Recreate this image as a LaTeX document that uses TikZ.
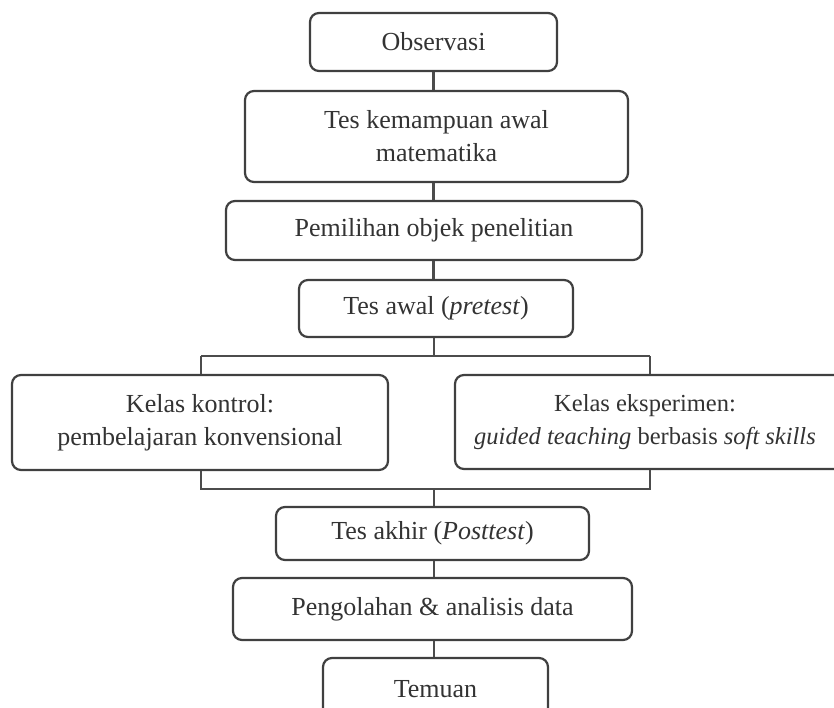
\documentclass[tikz,border=0pt]{standalone}
\usepackage{fontspec}
\setmainfont{Liberation Serif}
\begin{document}
\begin{tikzpicture}[x=1pt,y=-1pt,
  lbl/.style={font=\fontsize{26}{33}\selectfont, text=black!80, align=center, inner sep=0pt},
  box/.style={draw=black!75, line width=2.2pt, rounded corners=9pt, lbl},
  conn/.style={draw=black!70, line width=2.2pt}]
\useasboundingbox (0,0) rectangle (834,708);
\fill[white] (0,0) rectangle (834,708);
\clip (0,0) rectangle (834,708);
\node[box, minimum width=247pt, minimum height=58pt] (obs) at (433.5,42) {Observasi};
\node[box, minimum width=383pt, minimum height=91pt] (tka) at (436.5,136.5) {Tes kemampuan awal\\matematika};
\node[box, minimum width=416pt, minimum height=59pt] (pem) at (434,230.5) {Pemilihan objek penelitian};
\node[box, minimum width=274pt, minimum height=57pt] (twal) at (436,308.5) {Tes awal (\textit{pretest})};
\node[box, minimum width=376pt, minimum height=95pt] (kk) at (200,422.5) {Kelas kontrol:\\pembelajaran konvensional};
\node[box, minimum width=390pt, minimum height=94pt] (ke) at (650,422) {};
\node[lbl, font=\fontsize{24.5}{33}\selectfont] (ket) at (645,422) {Kelas eksperimen:\\\textit{guided teaching} berbasis \textit{soft skills}};
\node[box, minimum width=313pt, minimum height=53pt] (takh) at (432.5,533.5) {Tes akhir (\textit{Posttest})};
\node[box, minimum width=399pt, minimum height=62pt] (peng) at (432.5,609) {Pengolahan \& analisis data};
\node[box, minimum width=225pt, minimum height=70pt] (tem) at (435.5,693) {};
\node[lbl] (temt) at (435.5,689) {Temuan};
\coordinate (ta) at (434,356);
\coordinate (tl) at (201,356);
\coordinate (tr) at (650,356);
\coordinate (bl) at (201,489);
\coordinate (br) at (650,489);
\coordinate (bc) at (434,489);
\draw[conn] (obs.south) -- (obs.south |- tka.north);
\draw[conn] (tka.south -| obs.south) -- (pem.north -| obs.south);
\draw[conn] (pem.south -| obs.south) -- (twal.north -| obs.south);
\draw[conn] (twal.south -| ta) -- (ta);
\draw[conn] (tl) -- (tr);
\draw[conn] (tl) -- (tl |- kk.north);
\draw[conn] (tr) -- (tr |- ke.north);
\draw[conn] (kk.south -| bl) -- (bl) -- (br) -- (ke.south -| br);
\draw[conn] (bc) -- (bc |- takh.north);
\draw[conn] (takh.south -| bc) -- (peng.north -| bc);
\draw[conn] (peng.south -| bc) -- (tem.north -| bc);
\end{tikzpicture}
\end{document}
